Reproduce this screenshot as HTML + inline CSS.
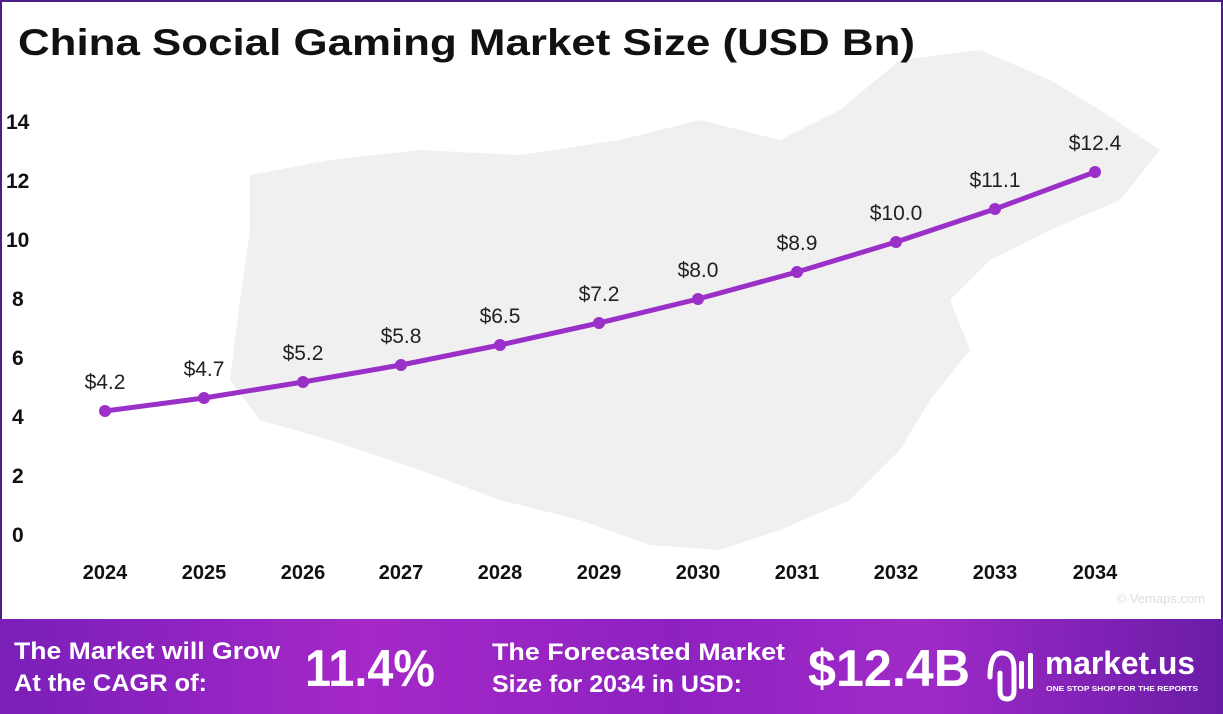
<!DOCTYPE html>
<html><head><meta charset="utf-8"><style>
body{margin:0;width:1223px;height:714px;overflow:hidden;background:#fff;font-family:"Liberation Sans",sans-serif;}
.frame{position:absolute;left:0;top:0;width:1219px;height:619px;border:2px solid #4b1e8a;border-bottom:none;}
.banner{position:absolute;left:0;top:619px;width:1223px;height:95px;background:linear-gradient(90deg,#7a1fb8 0%,#a528c8 30%,#8e22c0 55%,#a02ac8 75%,#6a1ca8 100%);}
</style></head><body>
<div class="frame"></div>
<svg width="1223" height="619" style="position:absolute;left:0;top:0">
<path d="M250 175 L330 160 L420 150 L520 155 L620 140 L700 120 L780 140 L840 110 L900 60 L980 50 L1050 80 L1100 110 L1160 150 L1120 200 L1050 230 L990 260 L950 300 L970 350 L930 400 L900 450 L850 500 L780 530 L720 550 L650 545 L580 520 L500 500 L420 470 L330 440 L260 420 L230 380 L240 300 L250 230 Z" fill="#f0f0f0"/>
<text x="18" y="55" font-size="37" font-weight="bold" fill="#111" textLength="897" lengthAdjust="spacingAndGlyphs">China Social Gaming Market Size (USD Bn)</text>
<g font-size="21" font-weight="bold" fill="#111">
<text x="6" y="129">14</text><text x="6" y="188">12</text><text x="6" y="247">10</text><text x="12" y="306">8</text><text x="12" y="365">6</text><text x="12" y="424">4</text><text x="12" y="483">2</text><text x="12" y="542">0</text>
</g>
<g font-size="20" font-weight="bold" fill="#111" text-anchor="middle">
<text x="105" y="579">2024</text><text x="204" y="579">2025</text><text x="303" y="579">2026</text><text x="401" y="579">2027</text><text x="500" y="579">2028</text><text x="599" y="579">2029</text><text x="698" y="579">2030</text><text x="797" y="579">2031</text><text x="896" y="579">2032</text><text x="995" y="579">2033</text><text x="1095" y="579">2034</text>
</g>
<polyline fill="none" stroke="#9b30c8" stroke-width="5" stroke-linejoin="round" points="105,411 204,398 303,382 401,365 500,345 599,323 698,299 797,272 896,242 995,209 1095,172"/>
<g fill="#9b30c8">
<circle cx="105" cy="411" r="6"/><circle cx="204" cy="398" r="6"/><circle cx="303" cy="382" r="6"/><circle cx="401" cy="365" r="6"/><circle cx="500" cy="345" r="6"/><circle cx="599" cy="323" r="6"/><circle cx="698" cy="299" r="6"/><circle cx="797" cy="272" r="6"/><circle cx="896" cy="242" r="6"/><circle cx="995" cy="209" r="6"/><circle cx="1095" cy="172" r="6"/>
</g>
<g font-size="21" fill="#222" text-anchor="middle">
<text x="105" y="389">$4.2</text><text x="204" y="376">$4.7</text><text x="303" y="360">$5.2</text><text x="401" y="343">$5.8</text><text x="500" y="323">$6.5</text><text x="599" y="301">$7.2</text><text x="698" y="277">$8.0</text><text x="797" y="250">$8.9</text><text x="896" y="220">$10.0</text><text x="995" y="187">$11.1</text><text x="1095" y="150">$12.4</text>
</g>
<text x="1205" y="603" font-size="13" fill="#ddd" text-anchor="end">© Vemaps.com</text>
</svg>
<div class="banner">
<svg width="1223" height="95" style="position:absolute;left:0;top:0" font-weight="bold" fill="#fff">
<text x="14" y="40" font-size="24" textLength="266" lengthAdjust="spacingAndGlyphs">The Market will Grow</text>
<text x="14" y="72" font-size="24" textLength="193" lengthAdjust="spacingAndGlyphs">At the CAGR of:</text>
<text x="305" y="67" font-size="52" textLength="130" lengthAdjust="spacingAndGlyphs">11.4%</text>
<text x="492" y="41" font-size="24" textLength="293" lengthAdjust="spacingAndGlyphs">The Forecasted Market</text>
<text x="492" y="73" font-size="24" textLength="250" lengthAdjust="spacingAndGlyphs">Size for 2034 in USD:</text>
<text x="808" y="67" font-size="52" textLength="162" lengthAdjust="spacingAndGlyphs">$12.4B</text>
<path d="M990 58 Q990 34 1002 34 Q1014 34 1014 50 L1014 72 Q1014 80 1007 80 Q1000 80 1000 72 L1000 54" fill="none" stroke="#fff" stroke-width="5" stroke-linecap="round"/>
<rect x="1019" y="42" width="5" height="28" rx="2"/><rect x="1028" y="34" width="5" height="36" rx="2"/>
<text x="1045" y="55" font-size="32" textLength="150" lengthAdjust="spacingAndGlyphs">market.us</text>
<text x="1046" y="72" font-size="7" textLength="152" lengthAdjust="spacingAndGlyphs">ONE STOP SHOP FOR THE REPORTS</text>
</svg>
</div>
</body></html>
